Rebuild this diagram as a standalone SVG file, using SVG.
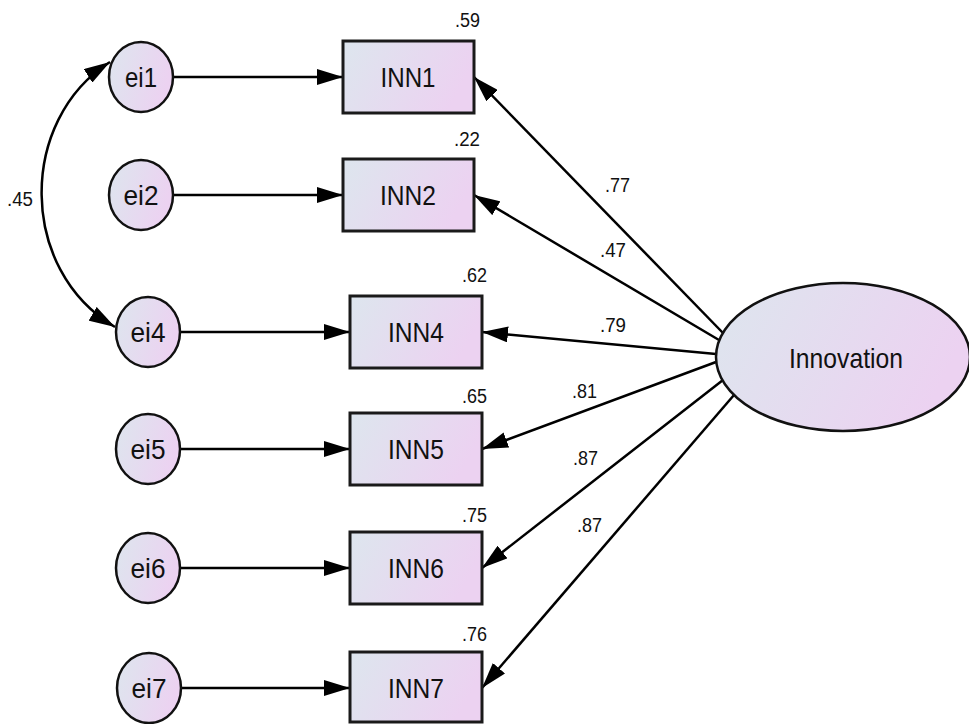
<svg xmlns="http://www.w3.org/2000/svg" width="969" height="724" viewBox="0 0 969 724">
  <style>
    .bg { fill: #ffffff; }
    .obs { fill: url(#shade); stroke: #1a1a1a; stroke-width: 3; }
    .lat { fill: url(#shade); stroke: #111111; stroke-width: 2.5; }
    .path { fill: none; stroke: #000000; stroke-width: 2.5; marker-end: url(#head); }
    .cov { fill: none; stroke: #000000; stroke-width: 2.5; marker-start: url(#head); marker-end: url(#head); }
    .lbl { font-family: "Liberation Sans", Arial, sans-serif; font-size: 28px; fill: #111111; text-anchor: middle; }
    .num { font-family: "Liberation Sans", Arial, sans-serif; font-size: 20px; fill: #111111; }
  </style>
  <defs>
    <linearGradient id="shade" x1="0" y1="0" x2="1" y2="0.3">
      <stop offset="0" stop-color="#dde6ee"/>
      <stop offset="1" stop-color="#ecd2f1"/>
    </linearGradient>
    <marker id="head" viewBox="0 0 26 16" refX="26" refY="8" markerWidth="26" markerHeight="16" markerUnits="userSpaceOnUse" orient="auto-start-reverse">
      <path d="M0,0 L26,8 L0,16 z" fill="#000000"/>
    </marker>
  </defs>
  <rect class="bg" x="0" y="0" width="969" height="724"/>

  <g id="connectors">
    <!-- error terms to indicators -->
    <line class="path" x1="173" y1="77" x2="343" y2="77"/>
    <line class="path" x1="173" y1="195" x2="343" y2="195"/>
    <line class="path" x1="180" y1="332" x2="350" y2="332"/>
    <line class="path" x1="180" y1="449" x2="350" y2="449"/>
    <line class="path" x1="180" y1="568" x2="350" y2="568"/>
    <line class="path" x1="181" y1="688" x2="350" y2="688"/>
    <!-- factor loadings -->
    <line class="path" x1="723" y1="333" x2="474" y2="77"/>
    <line class="path" x1="719" y1="340" x2="474" y2="195"/>
    <line class="path" x1="716" y1="354" x2="482" y2="332"/>
    <line class="path" x1="716" y1="362" x2="482" y2="449"/>
    <line class="path" x1="723" y1="380" x2="482" y2="568"/>
    <line class="path" x1="734" y1="395" x2="482" y2="688"/>
    <!-- error covariance ei1 <-> ei4 -->
    <path class="cov" d="M110,62 C18,120 18,270 115,327"/>
    <text class="num" x="7" y="206" textLength="26" lengthAdjust="spacingAndGlyphs">.45</text>
    <text class="num" x="605" y="192" textLength="25" lengthAdjust="spacingAndGlyphs">.77</text>
    <text class="num" x="600" y="257" textLength="26" lengthAdjust="spacingAndGlyphs">.47</text>
    <text class="num" x="600" y="332" textLength="26" lengthAdjust="spacingAndGlyphs">.79</text>
    <text class="num" x="572" y="398" textLength="25" lengthAdjust="spacingAndGlyphs">.81</text>
    <text class="num" x="573" y="465" textLength="25" lengthAdjust="spacingAndGlyphs">.87</text>
    <text class="num" x="577" y="532" textLength="25" lengthAdjust="spacingAndGlyphs">.87</text>
  </g>

  <g id="Innovation">
    <ellipse class="lat" cx="843" cy="357" rx="127" ry="74"/>
    <text class="lbl" x="846" y="368" textLength="114" lengthAdjust="spacingAndGlyphs">Innovation</text>
  </g>

  <g id="INN1">
    <rect class="obs" x="343" y="41" width="131" height="72"/>
    <text class="lbl" x="408" y="87" textLength="55" lengthAdjust="spacingAndGlyphs">INN1</text>
    <text class="num" x="455" y="27" textLength="25" lengthAdjust="spacingAndGlyphs">.59</text>
  </g>
  <g id="INN2">
    <rect class="obs" x="343" y="159" width="131" height="72"/>
    <text class="lbl" x="408" y="205" textLength="56" lengthAdjust="spacingAndGlyphs">INN2</text>
    <text class="num" x="454" y="146" textLength="26" lengthAdjust="spacingAndGlyphs">.22</text>
  </g>
  <g id="INN4">
    <rect class="obs" x="350" y="296" width="132" height="72"/>
    <text class="lbl" x="416" y="342" textLength="56" lengthAdjust="spacingAndGlyphs">INN4</text>
    <text class="num" x="462" y="282" textLength="25" lengthAdjust="spacingAndGlyphs">.62</text>
  </g>
  <g id="INN5">
    <rect class="obs" x="350" y="413" width="132" height="72"/>
    <text class="lbl" x="416" y="459" textLength="56" lengthAdjust="spacingAndGlyphs">INN5</text>
    <text class="num" x="462" y="403" textLength="25" lengthAdjust="spacingAndGlyphs">.65</text>
  </g>
  <g id="INN6">
    <rect class="obs" x="350" y="532" width="132" height="72"/>
    <text class="lbl" x="416" y="578" textLength="56" lengthAdjust="spacingAndGlyphs">INN6</text>
    <text class="num" x="462" y="522" textLength="25" lengthAdjust="spacingAndGlyphs">.75</text>
  </g>
  <g id="INN7">
    <rect class="obs" x="350" y="652" width="132" height="70"/>
    <text class="lbl" x="416" y="698" textLength="56" lengthAdjust="spacingAndGlyphs">INN7</text>
    <text class="num" x="462" y="641" textLength="25" lengthAdjust="spacingAndGlyphs">.76</text>
  </g>

  <g id="ei1">
    <ellipse class="lat" cx="141" cy="77" rx="32" ry="35"/>
    <text class="lbl" x="141" y="87" textLength="32" lengthAdjust="spacingAndGlyphs">ei1</text>
  </g>
  <g id="ei2">
    <ellipse class="lat" cx="141" cy="195" rx="32" ry="35"/>
    <text class="lbl" x="141" y="205" textLength="35" lengthAdjust="spacingAndGlyphs">ei2</text>
  </g>
  <g id="ei4">
    <ellipse class="lat" cx="148" cy="332" rx="32" ry="35"/>
    <text class="lbl" x="148" y="342" textLength="35" lengthAdjust="spacingAndGlyphs">ei4</text>
  </g>
  <g id="ei5">
    <ellipse class="lat" cx="148" cy="449" rx="32" ry="35"/>
    <text class="lbl" x="148" y="459" textLength="35" lengthAdjust="spacingAndGlyphs">ei5</text>
  </g>
  <g id="ei6">
    <ellipse class="lat" cx="148" cy="568" rx="32" ry="35"/>
    <text class="lbl" x="148" y="578" textLength="35" lengthAdjust="spacingAndGlyphs">ei6</text>
  </g>
  <g id="ei7">
    <ellipse class="lat" cx="149" cy="688" rx="32" ry="35"/>
    <text class="lbl" x="149" y="698" textLength="35" lengthAdjust="spacingAndGlyphs">ei7</text>
  </g>
</svg>
